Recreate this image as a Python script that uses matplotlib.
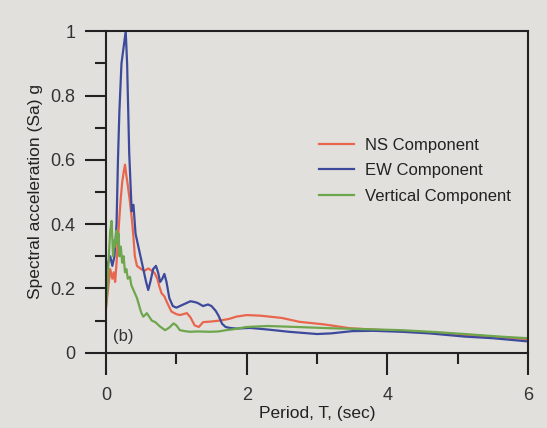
import numpy as np
import matplotlib as mpl
import matplotlib.pyplot as plt
from matplotlib.ticker import MultipleLocator

mpl.rc('font', family='Liberation Sans')

# NS component (red)
ns_T = [0, 0.03, 0.06, 0.09, 0.11, 0.13, 0.15, 0.17, 0.19, 0.21, 0.23, 0.25, 0.27, 0.29,
        0.31, 0.34, 0.37, 0.39, 0.41, 0.44, 0.47, 0.5, 0.55, 0.6, 0.65, 0.69, 0.73, 0.76,
        0.79, 0.83, 0.87, 0.93, 1.0, 1.05, 1.1, 1.15, 1.2, 1.26, 1.32, 1.38, 1.5, 1.62,
        1.75, 1.85, 2.0, 2.2, 2.5, 2.75, 3.1, 3.47, 3.8, 4.2, 4.6, 5.0, 5.5, 6.0]
ns_Sa = [0.14, 0.2, 0.26, 0.23, 0.25, 0.22, 0.28, 0.35, 0.42, 0.48, 0.53, 0.56, 0.585, 0.55,
         0.52, 0.47, 0.41, 0.36, 0.3, 0.27, 0.265, 0.26, 0.255, 0.262, 0.255, 0.248, 0.23, 0.205,
         0.185, 0.175, 0.155, 0.128, 0.12, 0.117, 0.12, 0.123, 0.11, 0.085, 0.08, 0.095, 0.097, 0.1,
         0.105, 0.112, 0.117, 0.115, 0.108, 0.096, 0.088, 0.076, 0.072, 0.067, 0.063, 0.056, 0.05, 0.042]

# EW component (blue)
ew_T = [0, 0.03, 0.06, 0.09, 0.12, 0.15, 0.17, 0.19, 0.22, 0.25, 0.28, 0.3, 0.33, 0.365,
        0.39, 0.42, 0.46, 0.5, 0.54, 0.57, 0.6, 0.63, 0.67, 0.71, 0.74, 0.77, 0.8, 0.83,
        0.86, 0.9, 0.95, 1.0, 1.1, 1.2, 1.25, 1.3, 1.38, 1.45, 1.5, 1.56, 1.6, 1.65,
        1.7, 1.76, 1.85, 2.05, 2.3, 2.6, 3.0, 3.2, 3.5, 3.8, 4.2, 4.6, 5.1, 5.5, 6.0]
ew_Sa = [0.25, 0.28, 0.3, 0.27, 0.3, 0.4, 0.6, 0.75, 0.9, 0.95, 1.0, 0.9, 0.62, 0.44,
         0.46, 0.37, 0.33, 0.29, 0.25, 0.22, 0.195, 0.22, 0.26, 0.27, 0.25, 0.22, 0.23, 0.245,
         0.22, 0.17, 0.145, 0.14, 0.15, 0.16, 0.158, 0.155, 0.145, 0.15, 0.145, 0.13, 0.115, 0.09,
         0.08, 0.077, 0.075, 0.077, 0.072, 0.065, 0.058, 0.06, 0.067, 0.068, 0.065, 0.06, 0.05, 0.045, 0.035]

# Vertical component (green)
v_T = [0, 0.02, 0.04, 0.06, 0.08, 0.1, 0.12, 0.13, 0.15, 0.16, 0.18, 0.19, 0.21, 0.23,
       0.25, 0.27, 0.29, 0.31, 0.34, 0.36, 0.38, 0.41, 0.44, 0.48, 0.5, 0.53, 0.56, 0.58,
       0.62, 0.65, 0.7, 0.77, 0.84, 0.9, 0.96, 1.0, 1.05, 1.12, 1.19, 1.3, 1.48, 1.6,
       1.71, 1.85, 2.0, 2.3, 2.7, 3.2, 3.7, 4.2, 4.7, 5.1, 5.6, 6.0]
v_Sa = [0.14, 0.2, 0.3, 0.38, 0.41, 0.3, 0.35, 0.33, 0.38, 0.34, 0.37, 0.3, 0.33, 0.28,
        0.3, 0.25, 0.26, 0.23, 0.236, 0.21, 0.2, 0.185, 0.17, 0.14, 0.125, 0.112, 0.118, 0.123,
        0.11, 0.1, 0.095, 0.081, 0.07, 0.078, 0.091, 0.085, 0.07, 0.067, 0.065, 0.066, 0.065, 0.066,
        0.07, 0.074, 0.08, 0.083, 0.08, 0.076, 0.073, 0.07, 0.064, 0.058, 0.05, 0.045]

y_ticks = [0, 0.2, 0.4, 0.6, 0.8, 1]
y_labels = ['0', '0.2', '0.4', '0.6', '0.8', '1']
x_ticks = [0, 2, 4, 6]

bg = '#e2e0dd'
fig = plt.figure(figsize=(5.47, 4.28), dpi=100, facecolor=bg)
ax = fig.add_axes([0.1938, 0.176, 0.7715, 0.751], facecolor=bg)

ax.plot(ns_T, ns_Sa, color='#e8664e', lw=1.6, label='NS Component')
ax.plot(ew_T, ew_Sa, color='#3d4a9c', lw=1.6, label='EW Component')
ax.plot(v_T, v_Sa, color='#6ea64e', lw=1.6, label='Vertical Component')

ax.set_xlim(0, 6)
ax.set_ylim(0, 1)
ax.set_xticks(x_ticks)
ax.set_xticklabels([str(t) for t in x_ticks])
ax.set_yticks(y_ticks)
ax.set_yticklabels(y_labels)
ax.xaxis.set_minor_locator(MultipleLocator(1))
ax.yaxis.set_minor_locator(MultipleLocator(0.1))

ax.tick_params(axis='y', which='major', direction='out', length=15, width=1.5,
               labelsize=13, pad=7, colors='#222222', labelcolor='#333333')
ax.tick_params(axis='x', which='major', direction='out', length=16, width=1.5,
               labelsize=13, pad=9, colors='#222222', labelcolor='#333333')
ax.tick_params(axis='both', which='minor', direction='out', length=8, width=1.5, colors='#222222')
for s in ax.spines.values():
    s.set_linewidth(1.5)
    s.set_color('#222222')

ax.set_xlabel('Period, T, (sec)', fontsize=12.5, labelpad=1, color='#222222')
ax.set_ylabel('Spectral acceleration (Sa) g', fontsize=12.5, labelpad=5, color='#222222')

ax.text(0.25, 0.05, '(b)', fontsize=12, color='#333333', ha='center', va='center')

leg = ax.legend(loc='upper left', bbox_to_anchor=(0.47, 0.715), frameon=False,
                fontsize=12, handlelength=2.1, handletextpad=0.65, labelspacing=0.62)
for t in leg.get_texts():
    t.set_color('#222222')

plt.savefig('out.png', dpi=100, facecolor=bg)
